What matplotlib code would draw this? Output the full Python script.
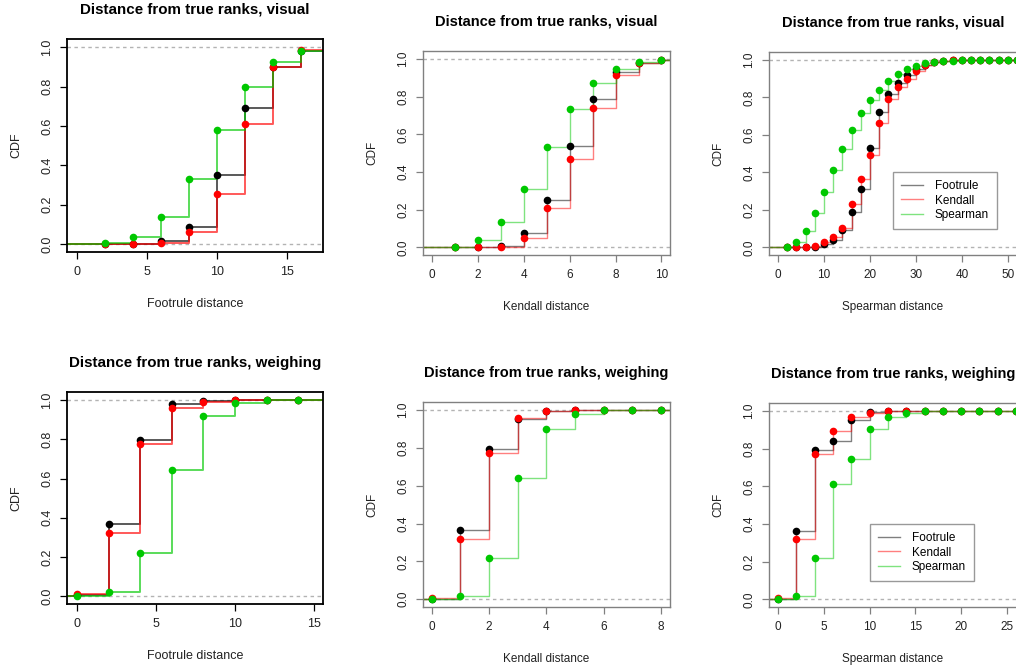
import numpy as np
import matplotlib
matplotlib.use("Agg")
import matplotlib.pyplot as plt

plt.rcParams['font.family'] = ['Liberation Sans', 'DejaVu Sans']

# --- data (ECDF values at each knot) ---
# footrule distance, visual
fv_x = [2, 4, 6, 8, 10, 12, 14, 16]
fv_foot = [0.002, 0.002, 0.017, 0.087, 0.349, 0.690, 0.898, 0.982]
fv_kend = [0.0, 0.001, 0.007, 0.060, 0.256, 0.610, 0.900, 0.987]
fv_spear = [0.004, 0.037, 0.138, 0.332, 0.579, 0.797, 0.927, 0.980]

# kendall distance, visual
kv_x = [1, 2, 3, 4, 5, 6, 7, 8, 9, 10]
kv_foot = [0.001, 0.002, 0.009, 0.074, 0.250, 0.536, 0.787, 0.933, 0.979, 0.995]
kv_kend = [0.0, 0.0, 0.004, 0.051, 0.206, 0.466, 0.737, 0.914, 0.977, 0.995]
kv_spear = [0.004, 0.037, 0.134, 0.310, 0.533, 0.734, 0.873, 0.947, 0.981, 0.995]

# spearman distance, visual
sv_x = [2, 4, 6, 8, 10, 12, 14, 16, 18, 20, 22, 24, 26,
        28, 30, 32, 34, 36, 38, 40, 42, 44, 46, 48, 50, 52]
sv_foot = [0.0, 0.001, 0.002, 0.004, 0.017, 0.039, 0.090, 0.188, 0.312, 0.531,
           0.721, 0.818, 0.877, 0.919, 0.952, 0.975, 0.988, 0.994, 0.997,
           0.998, 0.999, 0.999, 1.0, 1.0, 1.0, 1.0]
sv_kend = [0.0, 0.0, 0.002, 0.009, 0.026, 0.053, 0.104, 0.229, 0.362, 0.492,
           0.663, 0.790, 0.857, 0.899, 0.940, 0.974, 0.988, 0.994, 0.997,
           0.998, 0.999, 0.999, 1.0, 1.0, 1.0, 1.0]
sv_spear = [0.004, 0.030, 0.085, 0.182, 0.295, 0.413, 0.526, 0.628, 0.714, 0.787,
            0.841, 0.885, 0.922, 0.949, 0.968, 0.981, 0.989, 0.993, 0.996,
            0.997, 0.998, 0.998, 0.999, 0.999, 1.0, 1.0]

# footrule distance, weighing
fw_x = [0, 2, 4, 6, 8, 10, 12, 14]
fw_foot = [0.003, 0.366, 0.795, 0.981, 0.997, 1.0, 1.0, 1.0]
fw_kend = [0.009, 0.324, 0.775, 0.959, 0.991, 1.0, 1.0, 1.0]
fw_spear = [0.001, 0.022, 0.221, 0.646, 0.918, 0.988, 0.999, 1.0]

# kendall distance, weighing
kw_x = [0, 1, 2, 3, 4, 5, 6, 7, 8]
kw_foot = [0.003, 0.365, 0.795, 0.950, 0.994, 0.999, 1.0, 1.0, 1.0]
kw_kend = [0.007, 0.320, 0.773, 0.956, 0.993, 0.999, 1.0, 1.0, 1.0]
kw_spear = [0.0, 0.019, 0.219, 0.641, 0.899, 0.979, 0.998, 0.999, 1.0]

# spearman distance, weighing
sw_x = [0, 2, 4, 6, 8, 10, 12, 14, 16, 18, 20, 22, 24, 26]
sw_foot = [0.003, 0.365, 0.793, 0.839, 0.950, 0.996, 1.0, 1.0, 1.0, 1.0, 1.0, 1.0, 1.0, 1.0]
sw_kend = [0.007, 0.320, 0.773, 0.894, 0.966, 0.991, 0.998, 1.0, 1.0, 1.0, 1.0, 1.0, 1.0, 1.0]
sw_spear = [0.0, 0.019, 0.218, 0.611, 0.747, 0.906, 0.970, 0.988, 0.998, 1.0, 1.0, 1.0, 1.0, 1.0]

series_names = ['Footrule', 'Kendall', 'Spearman']
series_colors = ['black', '#ff0000', '#00c800']

W, H = 1016, 668
fig = plt.figure(figsize=(W / 100, H / 100), dpi=100)


def px_axes(l, t, r, b):
    return fig.add_axes([l / W, 1 - b / H, (r - l) / W, (b - t) / H])


def ecdf(ax, x, y, color, lw, alpha, ms):
    x = np.asarray(x, float)
    y = np.asarray(y, float)
    xs = np.concatenate([[x[0] - 1000], x, [x[-1] + 1000]])
    ys = np.concatenate([[0.0], y, [y[-1]]])
    ax.step(xs, ys, where='post', color=color, lw=lw, alpha=alpha, zorder=2)
    ax.plot(x, y, 'o', color=color, ms=ms, mec='none', zorder=3)


panels = [
    # box (px), x data, series, xlim, xticks, xlabel, title, left column?, legend
    ((67, 39, 323, 252), fv_x, (fv_foot, fv_kend, fv_spear), (-0.69, 17.6),
     [0, 5, 10, 15], 'Footrule distance', 'Distance from true ranks, visual', True, None),
    ((423, 51, 670, 255), kv_x, (kv_foot, kv_kend, kv_spear), (-0.38, 10.37),
     [0, 2, 4, 6, 8, 10], 'Kendall distance', 'Distance from true ranks, visual', False, None),
    ((769, 52, 1017, 255), sv_x, (sv_foot, sv_kend, sv_spear), (-1.96, 52.0),
     [0, 10, 20, 30, 40, 50], 'Spearman distance', 'Distance from true ranks, visual', False,
     (893, 172)),
    ((67, 392, 323, 604), fw_x, (fw_foot, fw_kend, fw_spear), (-0.63, 15.57),
     [0, 5, 10, 15], 'Footrule distance', 'Distance from true ranks, weighing', True, None),
    ((423, 402, 670, 607), kw_x, (kw_foot, kw_kend, kw_spear), (-0.31, 8.32),
     [0, 2, 4, 6, 8], 'Kendall distance', 'Distance from true ranks, weighing', False, None),
    ((769, 403, 1017, 607), sw_x, (sw_foot, sw_kend, sw_spear), (-0.99, 26.1),
     [0, 5, 10, 15, 20, 25], 'Spearman distance', 'Distance from true ranks, weighing', False,
     (870, 524)),
]

for box, xs, ys, xlim, xticks, xlabel, title, left, leg in panels:
    ax = px_axes(*box)
    fs = 9.0 if left else 8.5
    tfs = 10.9 if left else 10.5
    lw = 1.4 if left else 1.0
    alpha = 0.65 if left else 0.5
    edge = 'black' if left else '#808080'

    lines = []
    for i, (vals, c) in enumerate(zip(ys, series_colors)):
        ecdf(ax, xs, vals, c, lw, alpha, 5.5)
        if i == 0:
            for h in (0, 1):
                ax.axhline(h, color='#b3b3b3', lw=1.0, ls=(0, (2.5, 2.5)), zorder=1)
        lines.append(plt.Line2D([], [], color=c, lw=1.0, alpha=0.5))

    ax.set_xlim(*xlim)
    ax.set_ylim(-0.041, 1.042)
    ax.set_xticks(xticks)
    ax.set_yticks([0, 0.2, 0.4, 0.6, 0.8, 1.0])
    ax.set_yticklabels(['0.0', '0.2', '0.4', '0.6', '0.8', '1.0'])
    ax.tick_params(length=5, width=0.9, color=edge, labelsize=fs,
                   labelcolor='#222222', pad=5)
    ax.tick_params(axis='y', labelrotation=90)
    for lab in ax.get_yticklabels():
        lab.set_va('center')
    for s in ax.spines.values():
        s.set_color(edge)
        s.set_linewidth(1.3 if left else 1.0)

    ax.annotate(title, xy=(0.5, 1), xycoords='axes fraction', xytext=(0, 21),
                textcoords='offset points', ha='center', va='center',
                fontsize=tfs, fontweight='bold')
    ax.annotate(xlabel, xy=(0.5, 0), xycoords='axes fraction', xytext=(0, -37.5),
                textcoords='offset points', ha='center', va='center',
                fontsize=fs, color='#222222')
    ax.annotate('CDF', xy=(0, 0.5), xycoords='axes fraction', xytext=(-36.5, 0),
                textcoords='offset points', ha='center', va='center',
                fontsize=fs, rotation=90, color='#222222')

    if leg is not None:
        lg = ax.legend(lines, series_names, loc='upper left',
                       bbox_to_anchor=(leg[0] / W, 1 - leg[1] / H),
                       bbox_transform=fig.transFigure, borderaxespad=0,
                       fontsize=8.5, frameon=True, fancybox=False,
                       handlelength=1.85, handletextpad=1.0, labelspacing=0.2,
                       borderpad=0.7)
        lg.get_frame().set_edgecolor('#808080')
        lg.get_frame().set_linewidth(1.0)

fig.savefig('out.png', dpi=100)
